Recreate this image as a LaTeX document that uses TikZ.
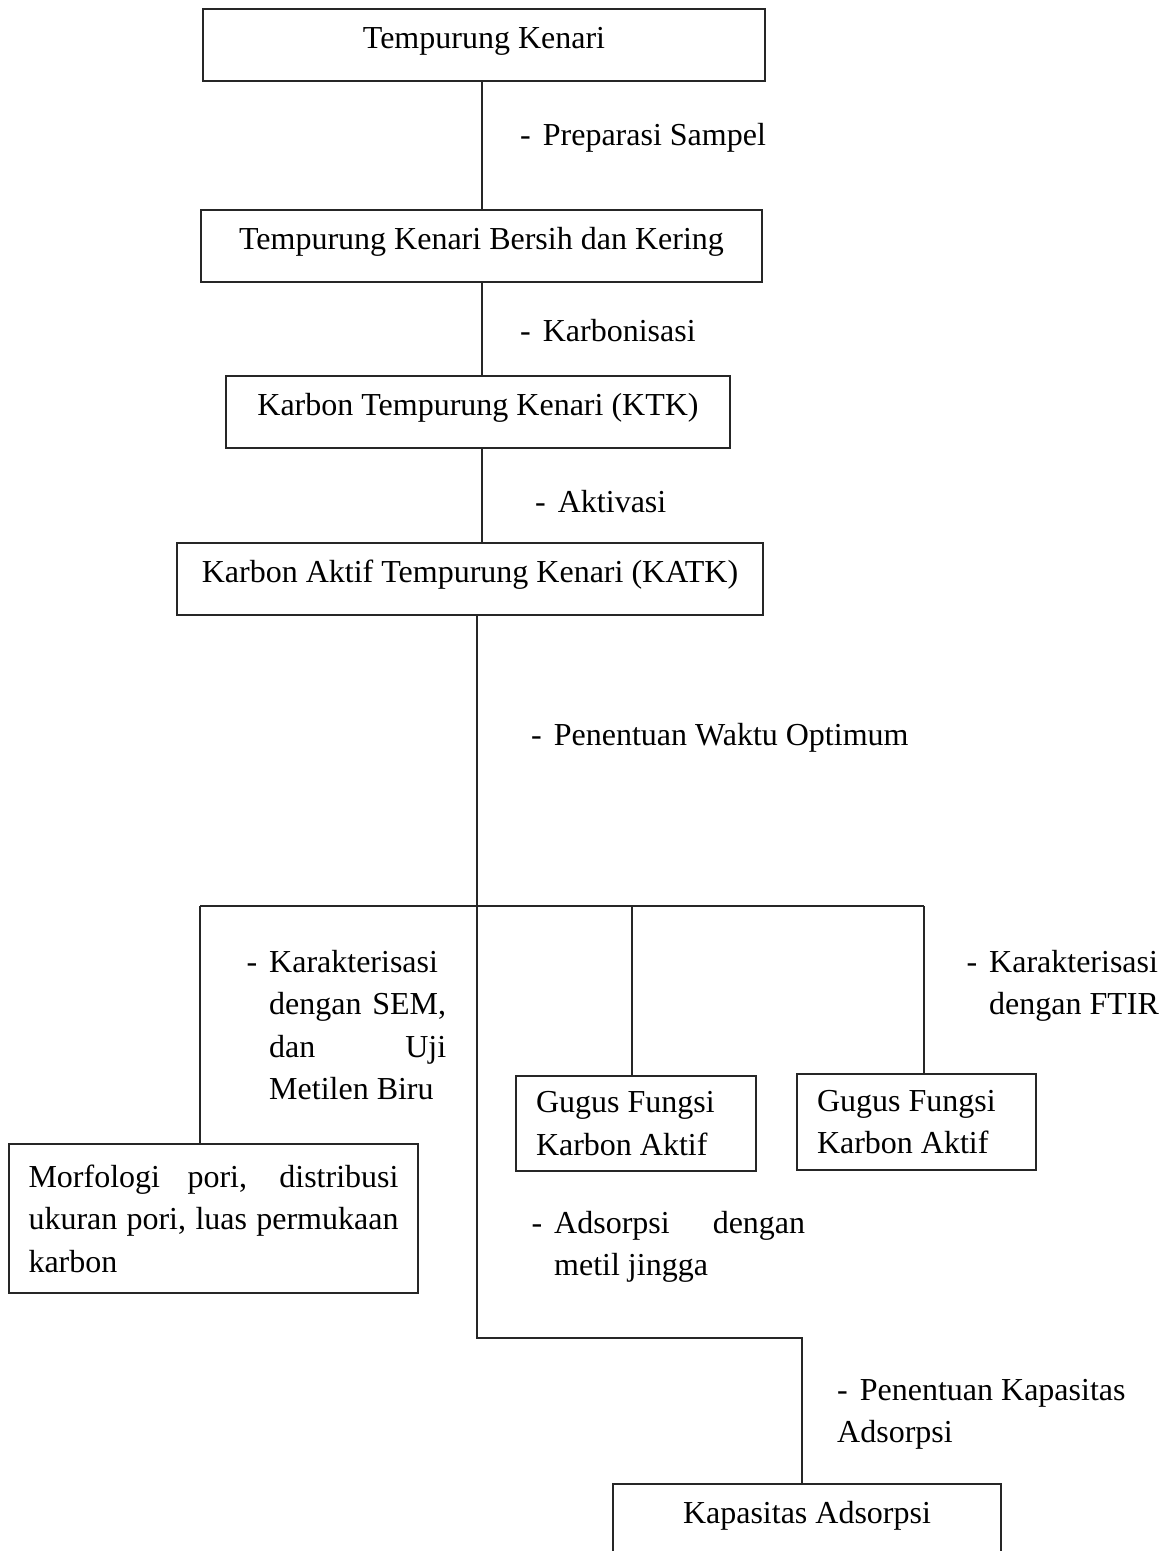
\documentclass[tikz,border=0pt]{standalone}
\usepackage{fontspec}
\setmainfont{Liberation Serif}
\usepackage{tikz}

\newcommand{\itemdash}{-\hspace{12pt}}

\begin{document}
\begin{tikzpicture}[x=1pt,y=-1pt,
    font=\fontsize{32}{42.5}\selectfont,
    box/.style={draw=black!85,line width=1.1pt,inner sep=0pt,minimum height=72pt,text height=20pt,text depth=14pt},
    mbox/.style={draw=black!85,line width=1.1pt,inner xsep=20pt,inner ysep=0pt},
    lbl/.style={inner sep=0pt,anchor=base west},
    mlbl/.style={inner sep=0pt,anchor=north west},
    conn/.style={draw=black!85,line width=1.1pt}]

    \useasboundingbox (0,0) rectangle (1174,1551);

    \node[box,minimum width=562pt] (tk) at (484,45) {Tempurung Kenari};
    \node[box,minimum width=561pt] (tkb) at (481.5,246) {Tempurung Kenari Bersih dan Kering};
    \node[box,minimum width=504pt] (ktk) at (478,412) {Karbon Tempurung Kenari (KTK)};
    \node[box,minimum width=586pt] (katk) at (470,579) {Karbon Aktif Tempurung Kenari (KATK)};

    \node[mbox,inner xsep=19.5pt,text width=370pt,align=justify,minimum height=149pt] (morf) at (213.5,1218.5)
        {Morfologi pori, distribusi\linebreak ukuran pori, luas permukaan\linebreak karbon};
    \node[mbox,text width=200pt,align=flush left,minimum height=95pt] (gf1) at (636,1123.5) {Gugus Fungsi\\Karbon Aktif};
    \node[mbox,text width=199pt,align=flush left,minimum height=96pt] (gf2) at (916.5,1122) {Gugus Fungsi\\Karbon Aktif};
    \node[box,minimum width=388pt] (kap) at (807,1520) {Kapasitas Adsorpsi};

    \node[lbl] (lprep) at (520,145) {\itemdash Preparasi Sampel};
    \node[lbl] (lkarb) at (520,341) {\itemdash Karbonisasi};
    \node[lbl] (lakt) at (535,512) {\itemdash Aktivasi};
    \node[lbl] (lwaktu) at (531,745) {\itemdash Penentuan Waktu Optimum};

    \node[mlbl,text width=177pt,align=justify] (lsem) at (269,950)
        {\leavevmode\llap{\itemdash}Karakterisasi\linebreak dengan SEM,\linebreak dan Uji\linebreak Metilen Biru};
    \node[mlbl,text width=175pt,align=flush left] (lftir) at (989,950)
        {\leavevmode\llap{\itemdash}Karakterisasi\\dengan FTIR};
    \node[mlbl,text width=251pt,align=justify] (lads) at (554,1211)
        {\leavevmode\llap{\itemdash}Adsorpsi dengan\linebreak metil jingga};
    \node[mlbl,text width=300pt,align=flush left] (lkap) at (837,1379)
        {\itemdash Penentuan Kapasitas\\Adsorpsi};

    \coordinate (ax) at (482,0);
    \coordinate (split) at (477,906);
    \coordinate (bl) at (200,906);
    \coordinate (bm) at (632,906);
    \coordinate (br) at (924,906);
    \coordinate (bend) at (477,1338);
    \coordinate (bend2) at (802,1338);

    \draw[conn] (ax |- tk.south) -- (ax |- tkb.north);
    \draw[conn] (ax |- tkb.south) -- (ax |- ktk.north);
    \draw[conn] (ax |- ktk.south) -- (ax |- katk.north);
    \draw[conn] (split |- katk.south) -- (split);

    \draw[conn] (bl) -- (br);
    \draw[conn] (bl) -- (bl |- morf.north);
    \draw[conn] (bm) -- (bm |- gf1.north);
    \draw[conn] (br) -- (br |- gf2.north);
    \draw[conn] (split) -- (bend) -- (bend2) -- (bend2 |- kap.north);

\end{tikzpicture}
\end{document}
